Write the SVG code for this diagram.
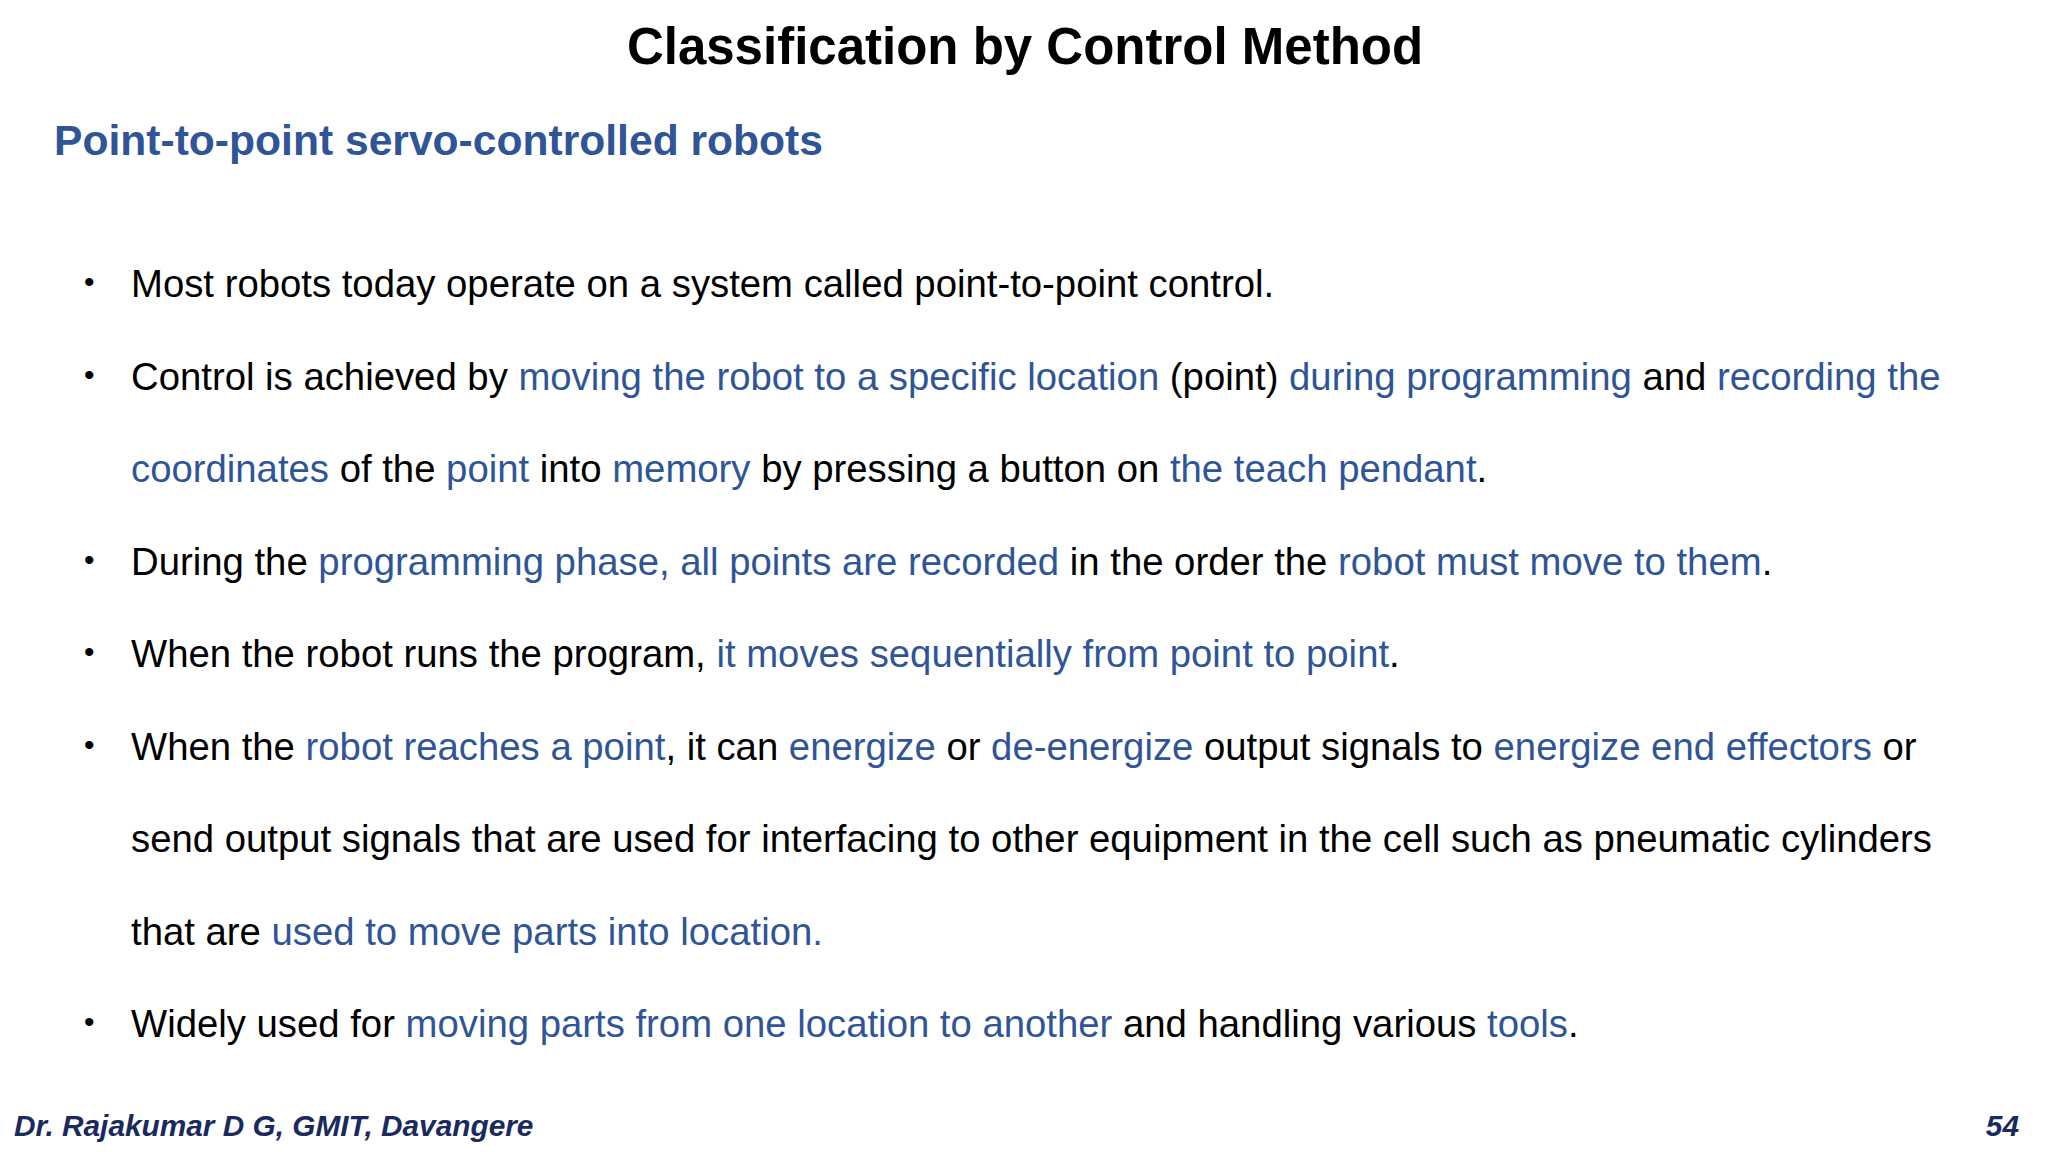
<svg xmlns="http://www.w3.org/2000/svg" width="2048" height="1152" viewBox="0 0 2048 1152">
<style>
text{font-family:"Liberation Sans",Arial,sans-serif}
.b{font-size:38.3px;fill:#000}
.h{fill:#2F5597}
.d{font-size:30px;fill:#000}
.f{font-size:29.8px;font-weight:bold;font-style:italic;fill:#1A2A5E}
</style>
<rect width="2048" height="1152" fill="#fff"/>
<text x="1025" y="64" text-anchor="middle" font-size="51" font-weight="bold" fill="#000">Classification by Control Method</text>
<text x="54" y="155" font-size="42.6" font-weight="bold" fill="#2F5597">Point-to-point servo-controlled robots</text>
<g class="d">
<text x="84" y="292">•</text><text x="84" y="385">•</text><text x="84" y="570">•</text><text x="84" y="662">•</text><text x="84" y="755">•</text><text x="84" y="1032">•</text>
</g>
<g class="b">
<text x="131" y="297">Most robots today operate on a system called point-to-point control.</text>
<text x="131" y="390">Control is achieved by <tspan class="h">moving the robot to a specific location</tspan> (point) <tspan class="h">during programming</tspan> and <tspan class="h">recording the</tspan></text>
<text x="131" y="482"><tspan class="h">coordinates</tspan> of the <tspan class="h">point</tspan> into <tspan class="h">memory</tspan> by pressing a button on <tspan class="h">the teach pendant</tspan>.</text>
<text x="131" y="575">During the <tspan class="h">programming phase, all points are recorded</tspan> in the order the <tspan class="h">robot must move to them</tspan>.</text>
<text x="131" y="667">When the robot runs the program, <tspan class="h">it moves sequentially from point to point</tspan>.</text>
<text x="131" y="760">When the <tspan class="h">robot reaches a point</tspan>, it can <tspan class="h">energize</tspan> or <tspan class="h">de-energize</tspan> output signals to <tspan class="h">energize end effectors</tspan> or</text>
<text x="131" y="852">send output signals that are used for interfacing to other equipment in the cell such as pneumatic cylinders</text>
<text x="131" y="945">that are <tspan class="h">used to move parts into location.</tspan></text>
<text x="131" y="1037">Widely used for <tspan class="h">moving parts from one location to another</tspan> and handling various <tspan class="h">tools</tspan>.</text>
</g>
<text class="f" x="14" y="1136">Dr. Rajakumar D G, GMIT, Davangere</text>
<text class="f" x="2019" y="1136" text-anchor="end">54</text>
</svg>
